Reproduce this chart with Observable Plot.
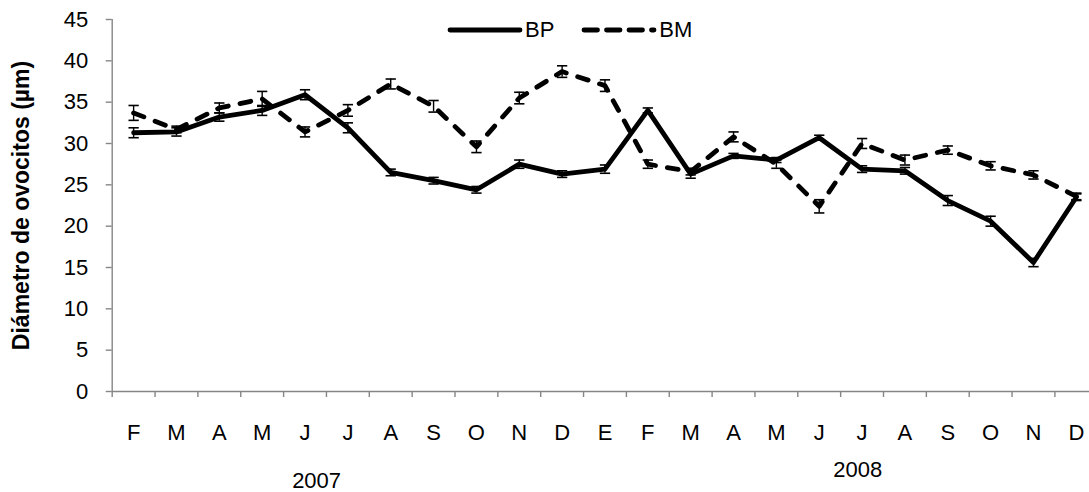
<!DOCTYPE html>
<html><head><meta charset="utf-8">
<script src="https://cdn.jsdelivr.net/npm/d3@7"></script>
<script src="https://cdn.jsdelivr.net/npm/@observablehq/plot@0.6"></script>
<style>
body{margin:0;background:#fff;font-family:Arial,"Liberation Sans",sans-serif}
#wrap{position:relative;width:1089px;height:492px;overflow:hidden}
#legend{position:absolute;top:17px;left:447px;display:flex;align-items:center;font-size:22px;line-height:26px;color:#000;z-index:2}
#legend .item{display:flex;align-items:center}
#legend svg{display:block}
</style>
</head><body><div id="wrap"><div id="legend"></div></div><script>
const months = ["F","M","A","M","J","J","A","S","O","N","D","E","F","M","A","M","J","J","A","S","O","N","D"];
const years = ["2007","2008"];
const seriesNames = ["BP","BM"];
const bp    = [31.3,31.4,33.2,34.0,35.9,31.9,26.5,25.5,24.4,27.5,26.3,26.9,34.0,26.3,28.5,28.0,30.7,26.9,26.7,23.1,20.6,15.6,23.5];
const bpErr = [0.6,0.5,0.5,0.6,0.6,0.6,0.4,0.4,0.4,0.5,0.4,0.5,0.3,0.5,0.3,0.3,0.3,0.4,0.4,0.6,0.6,0.5,0.4];
const bm    = [33.7,31.7,34.3,35.4,31.4,34.0,37.2,34.5,29.6,35.5,38.7,37.0,27.5,26.6,30.8,27.5,22.4,30.0,28.0,29.2,27.3,26.2,23.6];
const bmErr = [0.9,0.4,0.6,0.9,0.6,0.7,0.6,0.7,0.7,0.7,0.7,0.7,0.5,0.4,0.6,0.5,0.8,0.6,0.6,0.5,0.5,0.5,0.4];
const yTicks = [0,5,10,15,20,25,30,35,40,45];
const yTitle = "Diámetro de ovocitos (µm)";

const rows = months.flatMap((m, i) => [
  {s: seriesNames[0], x: i + 0.5, v: bp[i], e: bpErr[i]},
  {s: seriesNames[1], x: i + 0.5, v: bm[i], e: bmErr[i]}
]);
const bpRows = rows.filter(d => d.s === "BP");
const bmRows = rows.filter(d => d.s === "BM");
const boundaries = d3.range(0, months.length + 1);
const centers = months.map((m, i) => i + 0.5);
const axisGray = "#868686";
const dash = "11,12";
const font = "Arial, 'Liberation Sans', sans-serif";

const chart = Plot.plot({
  width: 1089,
  height: 492,
  marginTop: 19,
  marginBottom: 101,
  marginLeft: 111.7,
  marginRight: 0,
  style: {fontFamily: font, fontSize: "22px", background: "#fff", overflow: "visible"},
  x: {type: "linear", domain: [0, months.length], range: [111.7, 111.7 + 42.85 * months.length]},
  y: {domain: [0, 45]},
  marks: [
    Plot.ruleY([0], {x1: 0, x2: months.length, stroke: axisGray, strokeWidth: 1.4}),
    Plot.ruleX([0], {y1: 0, y2: 45, stroke: axisGray, strokeWidth: 1.4}),
    Plot.axisY({ticks: yTicks, tickSize: 6, tickPadding: 18, stroke: axisGray, strokeWidth: 1.4, fill: "#000", fontSize: 22, label: null, tickFormat: d => String(d)}),
    Plot.axisX({ticks: boundaries, tickSize: 6, stroke: axisGray, strokeWidth: 1.4, tickFormat: () => "", label: null}),
    Plot.axisX({ticks: centers, tickSize: 0, tickPadding: 33, fill: "#000", fontSize: 22, label: null, tickFormat: d => months[Math.floor(d)]}),
    Plot.text([years[0]], {x: () => 4.77, frameAnchor: "bottom", lineAnchor: "middle", dy: 89, fontSize: 22, fill: "#000"}),
    Plot.text([years[1]], {x: () => 17.4, frameAnchor: "bottom", lineAnchor: "middle", dy: 78, fontSize: 22, fill: "#000"}),
    Plot.text([yTitle], {frameAnchor: "left", textAnchor: "middle", rotate: -90, dx: -91, fontSize: 23, fontWeight: "bold", fill: "#000"}),
    Plot.line(bpRows, {x: "x", y: "v", stroke: "#000", strokeWidth: 4.8, strokeLinejoin: "round", strokeLinecap: "round"}),
    Plot.line(bmRows, {x: "x", y: "v", stroke: "#000", strokeWidth: 4.8, strokeDasharray: dash, strokeLinecap: "round", strokeLinejoin: "round"}),
    Plot.ruleX(rows, {x: "x", y1: d => d.v - d.e, y2: d => d.v + d.e, stroke: "#000", strokeWidth: 1.4}),
    Plot.link(rows, {x1: d => d.x - 0.12, x2: d => d.x + 0.12, y1: d => d.v + d.e, y2: d => d.v + d.e, stroke: "#000", strokeWidth: 1.6}),
    Plot.link(rows, {x1: d => d.x - 0.12, x2: d => d.x + 0.12, y1: d => d.v - d.e, y2: d => d.v - d.e, stroke: "#000", strokeWidth: 1.6})
  ]
});
document.getElementById("wrap").appendChild(chart);

// legend
const legend = document.getElementById("legend");
seriesNames.forEach((name, k) => {
  const item = document.createElement("div");
  item.className = "item";
  item.style.marginRight = k === 0 ? "27px" : "0";
  item.innerHTML = `<svg width="78" height="26"><line x1="3" x2="73" y1="13" y2="13" stroke="#000" stroke-width="4.8" stroke-linecap="round" ${k === 1 ? 'stroke-dasharray="13.5,9"' : ''}/></svg><span>${name}</span>`;
  legend.appendChild(item);
});
</script></body></html>
